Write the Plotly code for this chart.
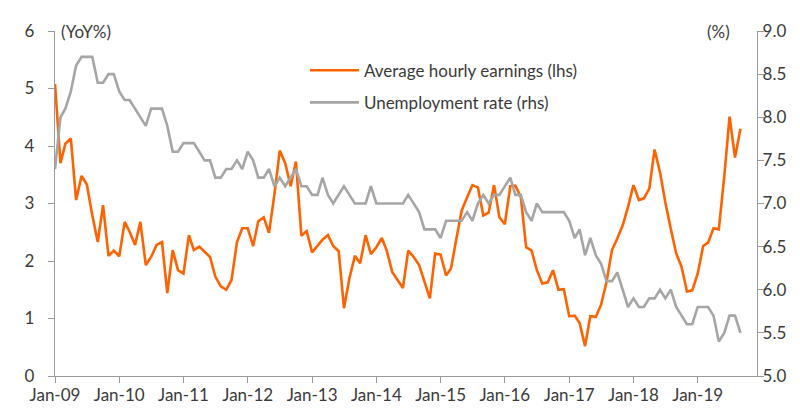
import pandas as pd
import plotly.graph_objects as go

start_month = "2009-01-01"

earnings = [
    5.08, 3.70, 4.04, 4.13, 3.06, 3.48, 3.33, 2.79, 2.33, 2.97, 2.09, 2.18,
    2.08, 2.68, 2.51, 2.28, 2.68, 1.93, 2.07, 2.28, 2.33, 1.44, 2.19, 1.84,
    1.78, 2.45, 2.19, 2.25, 2.16, 2.07, 1.73, 1.56, 1.50, 1.67, 2.33, 2.57,
    2.57, 2.26, 2.69, 2.76, 2.49, 3.16, 3.92, 3.70, 3.30, 3.73, 2.44, 2.52,
    2.15, 2.26, 2.37, 2.45, 2.26, 2.17, 1.18, 1.70, 2.09, 1.96, 2.45, 2.12,
    2.24, 2.40, 2.18, 1.81, 1.67, 1.53, 2.18, 2.07, 1.93, 1.65, 1.35, 2.13,
    2.11, 1.75, 1.87, 2.39, 2.88, 3.11, 3.32, 3.28, 2.79, 2.84, 3.32, 2.76,
    2.64, 3.30, 3.31, 3.11, 2.24, 2.18, 1.84, 1.61, 1.63, 1.84, 1.50, 1.51,
    1.04, 1.05, 0.92, 0.52, 1.04, 1.03, 1.24, 1.64, 2.19, 2.39, 2.62, 2.94,
    3.32, 3.06, 3.09, 3.26, 3.94, 3.54, 3.02, 2.56, 2.13, 1.90, 1.47, 1.49,
    1.78, 2.26, 2.32, 2.57, 2.55, 3.47, 4.51, 3.80, 4.30,
]

unemployment = [
    7.4, 8.0, 8.1, 8.3, 8.6, 8.7, 8.7, 8.7, 8.4, 8.4, 8.5, 8.5,
    8.3, 8.2, 8.2, 8.1, 8.0, 7.9, 8.1, 8.1, 8.1, 7.9, 7.6, 7.6,
    7.7, 7.7, 7.7, 7.6, 7.5, 7.5, 7.3, 7.3, 7.4, 7.4, 7.5, 7.4,
    7.6, 7.5, 7.3, 7.3, 7.4, 7.2, 7.3, 7.2, 7.3, 7.4, 7.2, 7.2,
    7.1, 7.1, 7.3, 7.1, 7.0, 7.1, 7.2, 7.1, 7.0, 7.0, 7.0, 7.2,
    7.0, 7.0, 7.0, 7.0, 7.0, 7.0, 7.1, 7.0, 6.9, 6.7, 6.7, 6.7,
    6.6, 6.8, 6.8, 6.8, 6.8, 6.9, 6.8, 7.0, 7.1, 7.0, 7.1, 7.1,
    7.2, 7.3, 7.1, 7.1, 6.9, 6.8, 7.0, 6.9, 6.9, 6.9, 6.9, 6.9,
    6.8, 6.6, 6.7, 6.4, 6.6, 6.4, 6.3, 6.1, 6.1, 6.2, 6.0, 5.8,
    5.9, 5.8, 5.8, 5.9, 5.9, 6.0, 5.9, 6.0, 5.8, 5.7, 5.6, 5.6,
    5.8, 5.8, 5.8, 5.7, 5.4, 5.5, 5.7, 5.7, 5.5,
]

series_names = ["Average hourly earnings (lhs)", "Unemployment rate (rhs)"]
left_ticks = [0, 1, 2, 3, 4, 5, 6]
right_ticks = [5.0, 5.5, 6.0, 6.5, 7.0, 7.5, 8.0, 8.5, 9.0]
right_tick_labels = ["5.0", "5.5", "6.0", "6.5", "7.0", "7.5", "8.0", "8.5", "9.0"]

dates = pd.date_range(start_month, periods=len(earnings), freq="MS")

ORANGE = "#FF6200"
GREY = "#A6A6A6"
TEXT = "#3a3a3a"
AXIS = "#9a9a9a"
FONT = "Lato"
FS = 17

fig = go.Figure()
fig.add_trace(go.Scatter(
    x=dates, y=unemployment, name=series_names[1], yaxis="y2",
    mode="lines", line=dict(color=GREY, width=2.6),
    legendgroup="b", legendrank=2,
))
fig.add_trace(go.Scatter(
    x=dates, y=earnings, name=series_names[0], yaxis="y",
    mode="lines", line=dict(color=ORANGE, width=2.6),
    legendgroup="a", legendrank=1,
))

fig.update_layout(
    width=800, height=412,
    margin=dict(l=47, r=51.3, t=21, b=43.7),
    paper_bgcolor="white", plot_bgcolor="white",
    font=dict(family=FONT, size=FS, color=TEXT),
    showlegend=True,
    legend=dict(
        x=0.356, y=0.937, xanchor="left", yanchor="top",
        bgcolor="rgba(0,0,0,0)", borderwidth=0, itemwidth=49,
        tracegroupgap=7, font=dict(size=FS, color=TEXT),
    ),
    xaxis=dict(
        type="date",
        range=["2009-01-01", "2019-12-04"],
        tick0="2009-01-01", dtick="M12", tickformat="%b-%y",
        ticks="outside", ticklen=6, tickcolor=AXIS,
        showline=True, linecolor=AXIS, linewidth=1.3,
        showgrid=False, zeroline=False,
        tickfont=dict(size=FS, color=TEXT),
        ticklabelstandoff=-3,
    ),
    yaxis=dict(
        range=[0, 6], tickvals=left_ticks,
        ticks="outside", ticklen=6, tickcolor=AXIS,
        showline=True, linecolor=AXIS, linewidth=1.3,
        showgrid=False, zeroline=False,
        tickfont=dict(size=FS, color=TEXT),
        ticklabelstandoff=10,
    ),
    yaxis2=dict(
        range=[5, 9], tickvals=right_ticks, ticktext=right_tick_labels,
        overlaying="y", side="right",
        ticks="outside", ticklen=6, tickcolor=AXIS,
        showline=True, linecolor=AXIS, linewidth=1.3,
        showgrid=False, zeroline=False,
        tickfont=dict(size=FS, color=TEXT),
        ticklabelstandoff=-5,
    ),
    annotations=[
        dict(text="(YoY%)", xref="paper", yref="paper", x=0.006, y=1.0,
             xanchor="left", yanchor="middle", showarrow=False,
             font=dict(size=FS, color=TEXT)),
        dict(text="(%)", xref="paper", yref="paper", x=0.965, y=1.0,
             xanchor="right", yanchor="middle", showarrow=False,
             font=dict(size=FS, color=TEXT)),
    ],
)

fig.write_html("out.html")
